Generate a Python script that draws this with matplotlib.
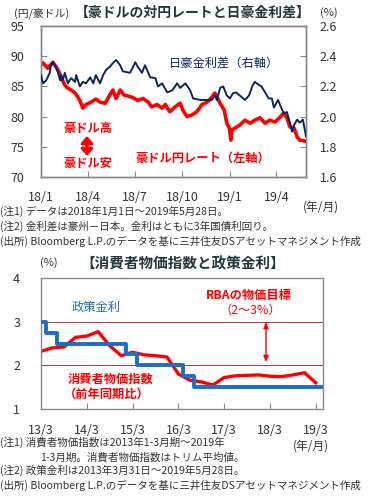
import matplotlib.pyplot as plt
import pandas as pd

plt.rcParams['font.family'] = ['Noto Sans CJK JP', 'DejaVu Sans']

# 豪ドル円レート (円/豪ドル)
audjpy_dates = [
    "2018-01-01", "2018-01-05", "2018-01-14", "2018-01-24", "2018-02-03", "2018-02-09",
    "2018-02-16", "2018-02-22", "2018-02-28", "2018-03-08", "2018-03-17", "2018-03-23",
    "2018-03-29", "2018-04-08", "2018-04-17", "2018-04-25", "2018-05-05", "2018-05-14",
    "2018-05-20", "2018-05-26", "2018-06-03", "2018-06-10", "2018-06-26", "2018-07-07",
    "2018-07-17", "2018-07-27", "2018-08-03", "2018-08-13", "2018-08-23", "2018-08-29",
    "2018-09-07", "2018-09-17", "2018-09-27", "2018-10-02", "2018-10-10", "2018-10-20",
    "2018-10-29", "2018-11-08", "2018-11-18", "2018-11-27", "2018-12-03", "2018-12-13",
    "2018-12-21", "2018-12-26", "2018-12-31", "2019-01-03", "2019-01-05", "2019-01-11",
    "2019-01-20", "2019-01-30", "2019-02-09", "2019-02-18", "2019-02-28", "2019-03-10",
    "2019-03-19", "2019-03-29", "2019-04-08", "2019-04-15", "2019-04-21", "2019-04-27",
    "2019-05-05", "2019-05-11", "2019-05-16", "2019-05-24", "2019-05-28",
]
audjpy = [
    88.5, 88.9, 88.0, 89.0, 87.7, 86.5,
    85.2, 84.7, 84.4, 83.9, 82.7, 81.4,
    82.0, 82.4, 82.9, 82.4, 82.2, 83.6,
    84.4, 83.0, 84.4, 83.6, 83.2, 82.7,
    83.0, 82.4, 81.6, 82.0, 81.4, 82.0,
    80.8, 81.6, 82.2, 81.1, 80.0, 80.3,
    80.8, 82.0, 82.4, 83.2, 83.9, 82.2,
    81.1, 78.9, 78.1, 76.1, 77.8, 78.1,
    78.6, 79.4, 78.9, 79.4, 79.8, 78.9,
    79.4, 79.1, 79.9, 80.6, 79.8, 78.3,
    78.1, 76.6, 76.1, 76.0, 75.9,
]

# 日豪金利差 (%)
spread_dates = [
    "2018-01-01", "2018-01-05", "2018-01-11", "2018-01-18", "2018-01-20", "2018-01-24",
    "2018-01-30", "2018-02-03", "2018-02-07", "2018-02-09", "2018-02-12", "2018-02-16",
    "2018-02-22", "2018-02-28", "2018-03-08", "2018-03-10", "2018-03-17", "2018-03-23",
    "2018-03-29", "2018-04-06", "2018-04-12", "2018-04-17", "2018-04-25", "2018-05-01",
    "2018-05-07", "2018-05-14", "2018-05-20", "2018-05-26", "2018-06-03", "2018-06-08",
    "2018-06-22", "2018-06-28", "2018-07-02", "2018-07-07", "2018-07-15", "2018-07-21",
    "2018-07-31", "2018-08-10", "2018-08-15", "2018-08-23", "2018-09-02", "2018-09-12",
    "2018-09-21", "2018-09-27", "2018-10-07", "2018-10-16", "2018-10-22", "2018-11-05",
    "2018-11-18", "2018-11-27", "2018-12-03", "2018-12-07", "2018-12-13", "2018-12-19",
    "2018-12-26", "2019-01-01", "2019-01-07", "2019-01-13", "2019-01-20", "2019-01-30",
    "2019-02-07", "2019-02-13", "2019-02-18", "2019-02-26", "2019-03-03", "2019-03-10",
    "2019-03-17", "2019-03-23", "2019-03-27", "2019-04-04", "2019-04-10", "2019-04-15",
    "2019-04-21", "2019-04-27", "2019-05-01", "2019-05-05", "2019-05-11", "2019-05-16",
    "2019-05-22", "2019-05-28",
]
spread = [
    2.275, 2.22, 2.24, 2.29, 2.34, 2.36,
    2.33, 2.29, 2.24, 2.275, 2.24, 2.29,
    2.22, 2.255, 2.23, 2.275, 2.20, 2.23,
    2.22, 2.26, 2.22, 2.275, 2.22, 2.275,
    2.31, 2.33, 2.355, 2.375, 2.34, 2.30,
    2.29, 2.33, 2.36, 2.33, 2.29, 2.34,
    2.26, 2.255, 2.20, 2.22, 2.16, 2.175,
    2.22, 2.19, 2.22, 2.175, 2.12, 2.11,
    2.11, 2.11, 2.14, 2.11, 2.19, 2.20,
    2.14, 2.12, 2.155, 2.16, 2.14, 2.11,
    2.14, 2.20, 2.23, 2.21, 2.20, 2.16,
    2.12, 2.12, 2.06, 2.11, 2.06, 2.02,
    2.03, 1.96, 1.90, 1.945, 1.98, 1.96,
    1.98, 1.87,
]

top_ticks = ["2018-01-01", "2018-04-01", "2018-07-01", "2018-10-01", "2019-01-01", "2019-04-01"]
top_labels = ["18/1", "18/4", "18/7", "18/10", "19/1", "19/4"]

# 消費者物価指数 (トリム平均, 前年同期比)
cpi_dates = pd.date_range("2013-03-31", "2019-03-31", freq="QE")
cpi = [
    2.32, 2.40, 2.42, 2.64, 2.67, 2.77, 2.45, 2.22, 2.30, 2.24, 2.22, 2.19,
    1.80, 1.66, 1.62, 1.55, 1.72, 1.76, 1.77, 1.78, 1.75, 1.74, 1.78, 1.83, 1.60,
]

# 政策金利
rate_dates = ["2013-03-31", "2013-05-08", "2013-08-07", "2015-02-04", "2015-05-06",
              "2016-05-04", "2016-08-03", "2019-05-28"]
rate = [3.0, 2.75, 2.5, 2.25, 2.0, 1.75, 1.5, 1.5]

bottom_ticks = ["2013-03-31", "2014-03-31", "2015-03-31", "2016-03-31",
                "2017-03-31", "2018-03-31", "2019-03-31"]
bottom_labels = ["13/3", "14/3", "15/3", "16/3", "17/3", "18/3", "19/3"]

W, H = 375, 497
RED = "#ff0000"
NAVY = "#0b2465"
BLUE = "#1b6fc2"
TXT = "#333333"
TITLE = "#22383c"


def fx(x):
    return x / W


def fy(y):
    return 1 - y / H


def style_axis(ax):
    for s in ax.spines.values():
        s.set_color("#888888")
        s.set_linewidth(1.0)
    ax.tick_params(direction="in", length=4, color="#888888", labelcolor=TXT, labelsize=9)


fig = plt.figure(figsize=(W / 100, H / 100), dpi=100)

# ---- top chart ----
ax1 = fig.add_axes([fx(41), fy(177), fx(306) - fx(41), fy(26) - fy(177)])
ax1.plot(pd.to_datetime(audjpy_dates), audjpy, color=RED, lw=2.6, zorder=2)
ax1.set_ylim(70, 95)
ax1.set_yticks([70, 75, 80, 85, 90, 95])
ax1.set_xlim(pd.Timestamp("2018-01-01"), pd.Timestamp("2019-05-28"))
ax1.set_xticks(pd.to_datetime(top_ticks))
ax1.set_xticklabels(top_labels)
style_axis(ax1)
ax1.tick_params(axis="y", pad=12)
ax1.tick_params(axis="x", pad=10)

ax2 = ax1.twinx()
ax2.plot(pd.to_datetime(spread_dates), spread, color=NAVY, lw=1.4, zorder=3)
ax2.set_ylim(1.6, 2.6)
ax2.set_yticks([1.6, 1.8, 2.0, 2.2, 2.4, 2.6])
ax2.set_yticklabels(["1.6", "1.8", "2.0", "2.2", "2.4", "2.6"])
style_axis(ax2)
ax2.tick_params(axis="y", pad=10)

fig.text(fx(14), fy(13), "(円/豪ドル)", fontsize=7.8, color=TXT, ha="left", va="center")
fig.text(fx(193), fy(13), "【豪ドルの対円レートと日豪金利差】", fontsize=10, color=TITLE,
         ha="center", va="center", fontweight="bold")
fig.text(fx(320), fy(13), "(%)", fontsize=8, color=TXT, ha="left", va="center")
fig.text(fx(224), fy(63), "日豪金利差（右軸）", fontsize=8.8, color=NAVY, ha="center", va="center")
fig.text(fx(88), fy(128), "豪ドル高", fontsize=8.8, color=RED, ha="center", va="center", fontweight="bold")
fig.text(fx(88), fy(163), "豪ドル安", fontsize=8.8, color=RED, ha="center", va="center", fontweight="bold")
fig.text(fx(203), fy(158), "豪ドル円レート（左軸）", fontsize=8.8, color=RED, ha="center", va="center",
         fontweight="bold")
ax1.annotate("", xy=(fx(87), fy(136)), xytext=(fx(87), fy(156)), xycoords="figure fraction",
             textcoords="figure fraction",
             arrowprops=dict(arrowstyle="<|-|>,head_length=0.4,head_width=0.35", color=RED, lw=2.2,
                             shrinkA=0, shrinkB=0))
fig.text(fx(321), fy(207), "(年/月)", fontsize=8.5, color=TXT, ha="center", va="center")

top_notes = [
    "(注1) データは2018年1月1日～2019年5月28日。",
    "(注2) 金利差は豪州－日本。金利はともに3年国債利回り。",
    "(出所) Bloomberg L.P.のデータを基に三井住友DSアセットマネジメント作成",
]
for i, t in enumerate(top_notes):
    fig.text(fx(0), fy(211 + 15 * i), t, fontsize=7.6, color=TXT, ha="left", va="center")

# ---- bottom chart ----
ax3 = fig.add_axes([fx(41), fy(409), fx(323) - fx(41), fy(278) - fy(409)])
ax3.axhline(3, color="#c0303a", lw=0.7, zorder=1)
ax3.axhline(2, color="#c0303a", lw=0.7, zorder=1)
ax3.plot(pd.to_datetime(cpi_dates), cpi, color=RED, lw=2.4, zorder=2)
ax3.plot(pd.to_datetime(rate_dates), rate, color=BLUE, lw=2.8, drawstyle="steps-post", zorder=3)
ax3.set_ylim(1, 4)
ax3.set_yticks([1, 2, 3, 4])
ax3.set_xlim(pd.Timestamp("2013-03-31"), pd.Timestamp("2019-05-28"))
ax3.set_xticks(pd.to_datetime(bottom_ticks))
ax3.set_xticklabels(bottom_labels)
style_axis(ax3)
ax3.tick_params(axis="y", length=0, pad=15)
ax3.tick_params(axis="x", pad=11)

ax3.annotate("", xy=(fx(266), fy(322)), xytext=(fx(266), fy(362)), xycoords="figure fraction",
             textcoords="figure fraction",
             arrowprops=dict(arrowstyle="<|-|>,head_length=0.35,head_width=0.15", color=RED, lw=1.0,
                             shrinkA=0, shrinkB=0))

fig.text(fx(40), fy(263), "(%)", fontsize=8, color=TXT, ha="left", va="center")
fig.text(fx(183), fy(263), "【消費者物価指数と政策金利】", fontsize=10.5, color=TITLE,
         ha="center", va="center", fontweight="bold")
fig.text(fx(96), fy(308), "政策金利", fontsize=8.8, color=BLUE, ha="center", va="center")
fig.text(fx(249), fy(295), "RBAの物価目標", fontsize=8.8, color=RED, ha="center", va="center",
         fontweight="bold")
fig.text(fx(250), fy(310), "（2〜3%）", fontsize=8.8, color=RED, ha="center", va="center")
fig.text(fx(111), fy(379), "消費者物価指数", fontsize=8.8, color=RED, ha="center", va="center",
         fontweight="bold")
fig.text(fx(107), fy(394), "（前年同期比）", fontsize=8.8, color=RED, ha="center", va="center",
         fontweight="bold")
fig.text(fx(311), fy(446), "(年/月)", fontsize=8.5, color=TXT, ha="center", va="center")

bottom_notes = [
    (0, 442, "(注1) 消費者物価指数は2013年1-3月期～2019年"),
    (40, 457, "1-3月期。消費者物価指数はトリム平均値。"),
    (0, 470, "(注2) 政策金利は2013年3月31日～2019年5月28日。"),
    (0, 485, "(出所) Bloomberg L.P.のデータを基に三井住友DSアセットマネジメント作成"),
]
for x, y, t in bottom_notes:
    fig.text(fx(x), fy(y), t, fontsize=7.6, color=TXT, ha="left", va="center")

fig.savefig("out.png", dpi=100)
